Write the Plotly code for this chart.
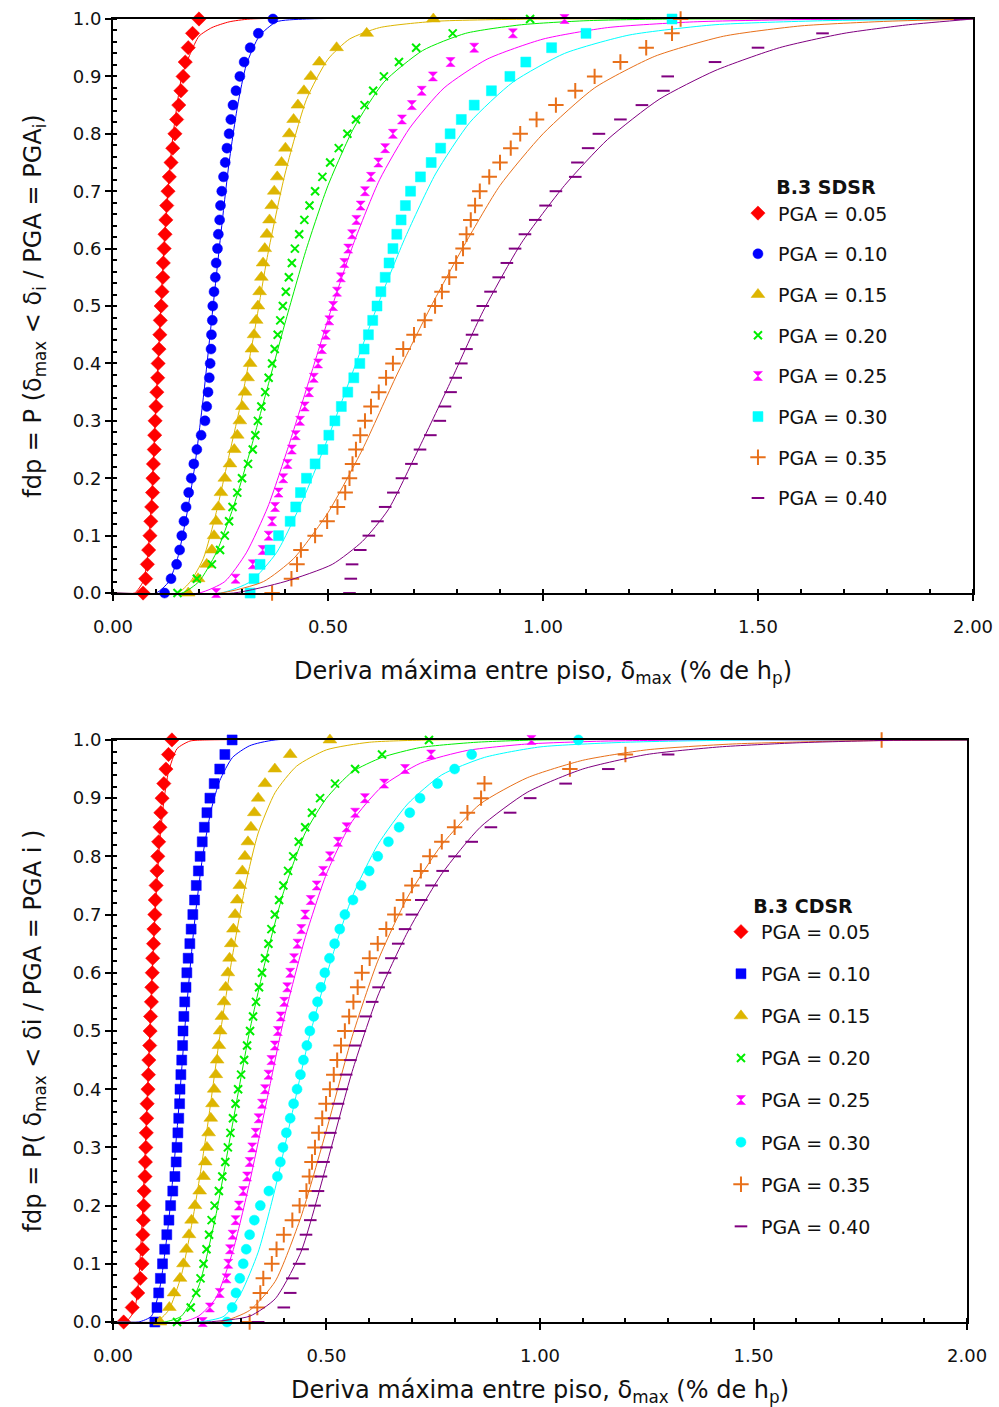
import plotly.graph_objects as go

# ---------------- data ----------------
P_LEVELS = [0.000, 0.025, 0.050, 0.075, 0.100, 0.125, 0.150, 0.175, 0.200, 0.225,
            0.250, 0.275, 0.300, 0.325, 0.350, 0.375, 0.400, 0.425, 0.450, 0.475,
            0.500, 0.525, 0.550, 0.575, 0.600, 0.625, 0.650, 0.675, 0.700, 0.725,
            0.750, 0.775, 0.800, 0.825, 0.850, 0.875, 0.900, 0.925, 0.950, 0.975, 1.000]

PGA_LABELS = ["PGA = 0.05", "PGA = 0.10", "PGA = 0.15", "PGA = 0.20",
              "PGA = 0.25", "PGA = 0.30", "PGA = 0.35", "PGA = 0.40"]
COLORS = ["#FF0000", "#0000FF", "#DDB500", "#00EE00",
          "#FF00FF", "#00FFFF", "#E8701A", "#800080"]
SYMBOLS_SDSR = ["diamond", "circle", "triangle-up", "x-thin",
                "hourglass", "square", "cross-thin", "line-ew"]
SYMBOLS_CDSR = ["diamond", "square", "triangle-up", "x-thin",
                "hourglass", "circle", "cross-thin", "line-ew"]

# ---- B.3 SDSR: empirical drift values (%) at each probability level ----
sdsr_05 = [0.070, 0.076, 0.080, 0.083, 0.086, 0.088, 0.090, 0.092, 0.093, 0.094,
           0.096, 0.097, 0.098, 0.100, 0.102, 0.104, 0.105, 0.107, 0.109, 0.110,
           0.112, 0.114, 0.116, 0.117, 0.119, 0.121, 0.123, 0.125, 0.128, 0.131,
           0.135, 0.139, 0.144, 0.148, 0.153, 0.158, 0.163, 0.168, 0.175, 0.185, 0.200]
sdsr_10 = [0.120, 0.135, 0.148, 0.155, 0.160, 0.165, 0.170, 0.176, 0.182, 0.188,
           0.195, 0.205, 0.214, 0.218, 0.221, 0.224, 0.226, 0.228, 0.229, 0.231,
           0.232, 0.235, 0.238, 0.240, 0.243, 0.245, 0.248, 0.250, 0.253, 0.257,
           0.261, 0.265, 0.270, 0.274, 0.279, 0.286, 0.295, 0.305, 0.319, 0.338, 0.372]
sdsr_15 = [0.175, 0.198, 0.218, 0.230, 0.235, 0.240, 0.245, 0.251, 0.260, 0.272,
           0.282, 0.289, 0.295, 0.301, 0.307, 0.313, 0.319, 0.323, 0.328, 0.333,
           0.337, 0.341, 0.345, 0.349, 0.353, 0.358, 0.364, 0.369, 0.375, 0.382,
           0.392, 0.401, 0.410, 0.420, 0.430, 0.444, 0.460, 0.480, 0.520, 0.590, 0.745]
sdsr_20 = [0.150, 0.195, 0.230, 0.249, 0.260, 0.270, 0.278, 0.289, 0.300, 0.314,
           0.325, 0.331, 0.337, 0.345, 0.354, 0.362, 0.370, 0.376, 0.383, 0.389,
           0.395, 0.402, 0.409, 0.416, 0.423, 0.433, 0.445, 0.457, 0.470, 0.487,
           0.505, 0.525, 0.545, 0.565, 0.585, 0.605, 0.630, 0.665, 0.705, 0.790, 0.970]
sdsr_25 = [0.240, 0.285, 0.325, 0.348, 0.362, 0.370, 0.377, 0.385, 0.396, 0.406,
           0.416, 0.425, 0.435, 0.446, 0.456, 0.467, 0.477, 0.486, 0.495, 0.503,
           0.512, 0.521, 0.530, 0.538, 0.547, 0.556, 0.566, 0.576, 0.586, 0.600,
           0.617, 0.633, 0.651, 0.672, 0.695, 0.718, 0.744, 0.785, 0.840, 0.930, 1.050]
sdsr_30 = [0.319, 0.328, 0.342, 0.365, 0.385, 0.412, 0.425, 0.436, 0.450, 0.470,
           0.488, 0.502, 0.516, 0.531, 0.546, 0.560, 0.574, 0.584, 0.594, 0.604,
           0.614, 0.623, 0.633, 0.642, 0.651, 0.660, 0.670, 0.680, 0.692, 0.715,
           0.740, 0.762, 0.784, 0.810, 0.840, 0.880, 0.923, 0.960, 1.020, 1.100, 1.300]
sdsr_35 = [0.370, 0.415, 0.428, 0.437, 0.470, 0.498, 0.522, 0.540, 0.550, 0.557,
           0.565, 0.575, 0.586, 0.600, 0.618, 0.635, 0.651, 0.675, 0.700, 0.725,
           0.749, 0.765, 0.782, 0.798, 0.814, 0.822, 0.832, 0.842, 0.853, 0.875,
           0.900, 0.925, 0.947, 0.985, 1.030, 1.075, 1.120, 1.180, 1.240, 1.300, 1.320]
sdsr_40 = [0.550, 0.553, 0.556, 0.575, 0.595, 0.615, 0.633, 0.652, 0.672, 0.694,
           0.714, 0.738, 0.760, 0.772, 0.785, 0.797, 0.810, 0.822, 0.835, 0.847,
           0.860, 0.878, 0.897, 0.916, 0.935, 0.958, 0.982, 1.006, 1.030, 1.075,
           1.080, 1.105, 1.130, 1.180, 1.230, 1.280, 1.290, 1.400, 1.500, 1.650, 1.970]

# ---- B.3 SDSR: fitted curves (drift, probability) ----
sdsr_fit05_x = [0.0, 0.05, 0.07, 0.08, 0.09, 0.10, 0.11, 0.12, 0.13, 0.14, 0.16, 0.18, 0.20, 0.23, 0.27, 0.32, 2.0]
sdsr_fit05_p = [0.0, 0.0, 0.02, 0.06, 0.17, 0.33, 0.48, 0.62, 0.72, 0.80, 0.90, 0.94, 0.97, 0.985, 0.995, 1.0, 1.0]
sdsr_fit10_x = [0.0, 0.10, 0.13, 0.15, 0.17, 0.19, 0.21, 0.23, 0.25, 0.27, 0.29, 0.31, 0.34, 0.38, 0.45, 2.0]
sdsr_fit10_p = [0.0, 0.0, 0.02, 0.06, 0.13, 0.22, 0.34, 0.48, 0.62, 0.75, 0.85, 0.92, 0.97, 0.995, 1.0, 1.0]
sdsr_fit15_x = [0.0, 0.15, 0.18, 0.21, 0.24, 0.27, 0.30, 0.33, 0.36, 0.40, 0.45, 0.50, 0.55, 0.62, 0.75, 1.0, 2.0]
sdsr_fit15_p = [0.0, 0.0, 0.02, 0.06, 0.14, 0.24, 0.34, 0.46, 0.59, 0.73, 0.86, 0.93, 0.965, 0.985, 0.996, 1.0, 1.0]
sdsr_fit20_x = [0.0, 0.16, 0.20, 0.24, 0.28, 0.32, 0.36, 0.40, 0.45, 0.50, 0.56, 0.63, 0.72, 0.82, 0.95, 1.1, 1.3, 2.0]
sdsr_fit20_p = [0.0, 0.0, 0.02, 0.07, 0.15, 0.25, 0.36, 0.47, 0.60, 0.71, 0.81, 0.89, 0.945, 0.975, 0.99, 0.997, 1.0, 1.0]
sdsr_fit25_x = [0.0, 0.20, 0.26, 0.31, 0.36, 0.41, 0.46, 0.51, 0.56, 0.62, 0.69, 0.77, 0.87, 1.0, 1.15, 1.35, 1.6, 2.0]
sdsr_fit25_p = [0.0, 0.0, 0.02, 0.07, 0.15, 0.26, 0.38, 0.50, 0.61, 0.72, 0.81, 0.88, 0.93, 0.965, 0.985, 0.995, 0.999, 1.0]
sdsr_fit30_x = [0.0, 0.25, 0.32, 0.38, 0.44, 0.50, 0.56, 0.62, 0.68, 0.75, 0.83, 0.93, 1.05, 1.2, 1.4, 1.65, 2.0]
sdsr_fit30_p = [0.0, 0.0, 0.02, 0.07, 0.16, 0.27, 0.39, 0.51, 0.62, 0.73, 0.82, 0.89, 0.94, 0.972, 0.99, 0.997, 1.0]
sdsr_fit35_x = [0.0, 0.25, 0.35, 0.42, 0.50, 0.58, 0.66, 0.74, 0.82, 0.90, 1.0, 1.12, 1.26, 1.42, 1.6, 1.8, 2.0]
sdsr_fit35_p = [0.0, 0.0, 0.02, 0.06, 0.14, 0.25, 0.38, 0.50, 0.61, 0.71, 0.80, 0.88, 0.935, 0.97, 0.988, 0.996, 1.0]
sdsr_fit40_x = [0.0, 0.28, 0.40, 0.51, 0.58, 0.64, 0.71, 0.78, 0.86, 0.95, 1.05, 1.15, 1.27, 1.4, 1.55, 1.7, 1.85, 2.0]
sdsr_fit40_p = [0.0, 0.0, 0.02, 0.05, 0.09, 0.145, 0.25, 0.36, 0.49, 0.61, 0.71, 0.79, 0.86, 0.91, 0.95, 0.975, 0.99, 1.0]

# ---- B.3 CDSR: empirical drift values (%) at each probability level ----
cdsr_05 = [0.025, 0.045, 0.058, 0.064, 0.068, 0.069, 0.070, 0.071, 0.072, 0.073,
           0.075, 0.076, 0.077, 0.078, 0.079, 0.080, 0.082, 0.083, 0.084, 0.086,
           0.087, 0.088, 0.090, 0.091, 0.092, 0.093, 0.095, 0.096, 0.098, 0.099,
           0.101, 0.103, 0.105, 0.107, 0.110, 0.112, 0.115, 0.119, 0.124, 0.130, 0.138]
cdsr_10 = [0.098, 0.103, 0.107, 0.111, 0.116, 0.121, 0.126, 0.131, 0.135, 0.140,
           0.145, 0.148, 0.150, 0.152, 0.154, 0.156, 0.157, 0.159, 0.161, 0.163,
           0.164, 0.166, 0.168, 0.171, 0.173, 0.176, 0.180, 0.183, 0.187, 0.191,
           0.195, 0.200, 0.204, 0.209, 0.214, 0.220, 0.227, 0.237, 0.250, 0.262, 0.279]
cdsr_15 = [0.110, 0.132, 0.143, 0.157, 0.165, 0.172, 0.178, 0.184, 0.192, 0.203,
           0.212, 0.216, 0.220, 0.224, 0.229, 0.233, 0.237, 0.241, 0.244, 0.248,
           0.251, 0.255, 0.260, 0.264, 0.269, 0.273, 0.277, 0.282, 0.286, 0.291,
           0.297, 0.303, 0.309, 0.316, 0.323, 0.331, 0.340, 0.356, 0.379, 0.415, 0.508]
cdsr_20 = [0.150, 0.182, 0.195, 0.205, 0.212, 0.219, 0.225, 0.231, 0.238, 0.248,
           0.256, 0.263, 0.269, 0.275, 0.281, 0.287, 0.293, 0.300, 0.307, 0.314,
           0.321, 0.328, 0.335, 0.342, 0.349, 0.356, 0.364, 0.371, 0.379, 0.389,
           0.399, 0.410, 0.422, 0.435, 0.450, 0.466, 0.485, 0.520, 0.567, 0.630, 0.740]
cdsr_25 = [0.210, 0.227, 0.250, 0.266, 0.270, 0.274, 0.280, 0.287, 0.295, 0.305,
           0.314, 0.320, 0.326, 0.334, 0.341, 0.349, 0.356, 0.364, 0.371, 0.379,
           0.386, 0.393, 0.401, 0.408, 0.415, 0.424, 0.432, 0.441, 0.450, 0.463,
           0.477, 0.492, 0.508, 0.527, 0.547, 0.567, 0.590, 0.635, 0.684, 0.745, 0.980]
cdsr_30 = [0.267, 0.279, 0.288, 0.297, 0.305, 0.312, 0.320, 0.331, 0.345, 0.365,
           0.385, 0.392, 0.398, 0.406, 0.415, 0.423, 0.431, 0.439, 0.446, 0.454,
           0.461, 0.470, 0.479, 0.487, 0.496, 0.507, 0.519, 0.531, 0.543, 0.562,
           0.581, 0.600, 0.620, 0.645, 0.670, 0.695, 0.719, 0.760, 0.800, 0.840, 1.090]
cdsr_35 = [0.320, 0.338, 0.345, 0.352, 0.372, 0.383, 0.400, 0.420, 0.437, 0.453,
           0.460, 0.466, 0.473, 0.482, 0.490, 0.499, 0.508, 0.517, 0.525, 0.534,
           0.543, 0.553, 0.563, 0.573, 0.583, 0.601, 0.620, 0.640, 0.660, 0.680,
           0.700, 0.721, 0.742, 0.770, 0.800, 0.830, 0.862, 0.870, 1.070, 1.200, 1.800]
cdsr_40 = [0.340, 0.400, 0.415, 0.420, 0.436, 0.444, 0.452, 0.462, 0.472, 0.480,
           0.487, 0.493, 0.500, 0.509, 0.518, 0.527, 0.536, 0.546, 0.556, 0.567,
           0.578, 0.592, 0.607, 0.622, 0.637, 0.652, 0.668, 0.684, 0.700, 0.722,
           0.746, 0.772, 0.800, 0.840, 0.885, 0.930, 0.977, 1.060, 1.160, 1.300, 1.800]

# ---- B.3 CDSR: fitted curves (drift, probability) ----
cdsr_fit05_x = [0.0, 0.03, 0.05, 0.06, 0.07, 0.08, 0.09, 0.10, 0.11, 0.12, 0.13, 0.15, 0.18, 0.22, 2.0]
cdsr_fit05_p = [0.0, 0.0, 0.02, 0.07, 0.20, 0.38, 0.57, 0.72, 0.83, 0.90, 0.945, 0.985, 0.998, 1.0, 1.0]
cdsr_fit10_x = [0.0, 0.06, 0.09, 0.11, 0.13, 0.15, 0.17, 0.19, 0.21, 0.23, 0.25, 0.28, 0.32, 0.38, 2.0]
cdsr_fit10_p = [0.0, 0.0, 0.01, 0.06, 0.17, 0.33, 0.52, 0.68, 0.80, 0.88, 0.93, 0.97, 0.99, 1.0, 1.0]
cdsr_fit15_x = [0.0, 0.10, 0.13, 0.16, 0.19, 0.22, 0.25, 0.28, 0.31, 0.34, 0.38, 0.43, 0.50, 0.60, 0.75, 2.0]
cdsr_fit15_p = [0.0, 0.0, 0.02, 0.08, 0.19, 0.33, 0.49, 0.63, 0.75, 0.84, 0.91, 0.955, 0.983, 0.996, 1.0, 1.0]
cdsr_fit20_x = [0.0, 0.12, 0.16, 0.20, 0.24, 0.28, 0.32, 0.36, 0.40, 0.45, 0.50, 0.56, 0.63, 0.72, 0.85, 1.0, 2.0]
cdsr_fit20_p = [0.0, 0.0, 0.01, 0.06, 0.18, 0.34, 0.50, 0.63, 0.74, 0.84, 0.90, 0.945, 0.97, 0.987, 0.996, 1.0, 1.0]
cdsr_fit25_x = [0.0, 0.16, 0.20, 0.24, 0.28, 0.32, 0.36, 0.40, 0.45, 0.50, 0.56, 0.63, 0.72, 0.83, 0.97, 1.15, 1.4, 2.0]
cdsr_fit25_p = [0.0, 0.0, 0.01, 0.04, 0.12, 0.24, 0.38, 0.52, 0.66, 0.77, 0.86, 0.92, 0.96, 0.982, 0.993, 0.998, 1.0, 1.0]
cdsr_fit30_x = [0.0, 0.20, 0.26, 0.30, 0.34, 0.38, 0.42, 0.46, 0.51, 0.56, 0.62, 0.69, 0.77, 0.87, 1.0, 1.2, 1.5, 2.0]
cdsr_fit30_p = [0.0, 0.0, 0.01, 0.05, 0.12, 0.23, 0.36, 0.49, 0.62, 0.73, 0.82, 0.89, 0.94, 0.97, 0.988, 0.996, 1.0, 1.0]
cdsr_fit35_x = [0.0, 0.25, 0.32, 0.38, 0.44, 0.50, 0.56, 0.62, 0.69, 0.77, 0.86, 0.97, 1.1, 1.25, 1.45, 1.7, 2.0]
cdsr_fit35_p = [0.0, 0.0, 0.02, 0.07, 0.18, 0.33, 0.49, 0.62, 0.73, 0.82, 0.89, 0.935, 0.965, 0.983, 0.993, 0.998, 1.0]
cdsr_fit40_x = [0.0, 0.22, 0.32, 0.38, 0.44, 0.50, 0.56, 0.62, 0.69, 0.77, 0.86, 0.97, 1.1, 1.25, 1.42, 1.6, 1.8, 2.0]
cdsr_fit40_p = [0.0, 0.0, 0.01, 0.04, 0.12, 0.27, 0.43, 0.56, 0.67, 0.77, 0.85, 0.91, 0.95, 0.975, 0.988, 0.995, 0.999, 1.0]

X_TICKS = [0.0, 0.5, 1.0, 1.5, 2.0]
X_TICK_TEXT = ["0.00", "0.50", "1.00", "1.50", "2.00"]
Y_TICKS = [0.0, 0.1, 0.2, 0.3, 0.4, 0.5, 0.6, 0.7, 0.8, 0.9, 1.0]
Y_TICK_TEXT = ["0.0", "0.1", "0.2", "0.3", "0.4", "0.5", "0.6", "0.7", "0.8", "0.9", "1.0"]

SDSR_POINTS = [sdsr_05, sdsr_10, sdsr_15, sdsr_20, sdsr_25, sdsr_30, sdsr_35, sdsr_40]
SDSR_FITS = [(sdsr_fit05_x, sdsr_fit05_p), (sdsr_fit10_x, sdsr_fit10_p), (sdsr_fit15_x, sdsr_fit15_p),
             (sdsr_fit20_x, sdsr_fit20_p), (sdsr_fit25_x, sdsr_fit25_p), (sdsr_fit30_x, sdsr_fit30_p),
             (sdsr_fit35_x, sdsr_fit35_p), (sdsr_fit40_x, sdsr_fit40_p)]
CDSR_POINTS = [cdsr_05, cdsr_10, cdsr_15, cdsr_20, cdsr_25, cdsr_30, cdsr_35, cdsr_40]
CDSR_FITS = [(cdsr_fit05_x, cdsr_fit05_p), (cdsr_fit10_x, cdsr_fit10_p), (cdsr_fit15_x, cdsr_fit15_p),
             (cdsr_fit20_x, cdsr_fit20_p), (cdsr_fit25_x, cdsr_fit25_p), (cdsr_fit30_x, cdsr_fit30_p),
             (cdsr_fit35_x, cdsr_fit35_p), (cdsr_fit40_x, cdsr_fit40_p)]

# ---------------- styling ----------------
FONT = "DejaVu Sans"
MARKER_SIZE = {"diamond": 11, "circle": 10, "triangle-up": 12, "x-thin": 8,
               "hourglass": 9, "square": 10, "cross-thin": 11, "line-ew": 9}
THIN = {"x-thin", "cross-thin", "line-ew"}

fig = go.Figure()


def add_panel(points, fits, symbols, xref, yref, legend_name, group_prefix):
    for i in range(8):
        color = COLORS[i]
        sym = symbols[i]
        fx, fp = fits[i]
        fig.add_trace(go.Scatter(
            x=fx, y=fp, mode="lines", xaxis=xref, yaxis=yref,
            line=dict(color=color, width=1, shape="spline", smoothing=0.6),
            showlegend=False, legendgroup=f"{group_prefix}{i}", hoverinfo="skip"))
        fig.add_trace(go.Scatter(
            x=points[i], y=P_LEVELS, mode="markers", xaxis=xref, yaxis=yref,
            name=PGA_LABELS[i], legend=legend_name, legendgroup=f"{group_prefix}{i}",
            cliponaxis=False,
            marker=dict(symbol=sym, size=MARKER_SIZE[sym], color=color,
                        line=dict(color=color, width=2 if sym in THIN else 0.5))))


add_panel(SDSR_POINTS, SDSR_FITS, SYMBOLS_SDSR, "x", "y", "legend", "s")
add_panel(CDSR_POINTS, CDSR_FITS, SYMBOLS_CDSR, "x2", "y2", "legend2", "c")

axis_common = dict(showline=True, linecolor="black", linewidth=2, mirror=True,
                   showgrid=False, zeroline=False, ticks="outside", tickcolor="black",
                   automargin=False,
                   tickfont=dict(family=FONT, size=18, color="#111"))
x_common = dict(axis_common, range=[0, 2], tickvals=X_TICKS, ticktext=X_TICK_TEXT,
                ticklen=6, tickwidth=1.5, ticklabelstandoff=10,
                minor=dict(dtick=0.1, ticks="inside", ticklen=4, tickcolor="black", tickwidth=1.5))
y_common = dict(axis_common, range=[0, 1], tickvals=Y_TICKS, ticktext=Y_TICK_TEXT,
                ticklen=6, tickwidth=1.5,
                minor=dict(dtick=0.02, ticks="inside", ticklen=4, tickcolor="black", tickwidth=1.5))

x_title = "Deriva máxima entre piso, δ<sub>max</sub> (% de h<sub>p</sub>)"
title_font = dict(family=FONT, size=24, color="#111")
legend_font = dict(family=FONT, size=19, color="#111")
NBSP = "&nbsp;"

fig.update_layout(
    width=999, height=1407,
    margin=dict(l=0, r=0, t=0, b=0, autoexpand=False),
    paper_bgcolor="white", plot_bgcolor="white",
    font=dict(family=FONT, color="#111"),
    xaxis=dict(x_common, domain=[0.1131, 0.974], anchor="y",
               title=dict(text=x_title, font=title_font, standoff=27)),
    yaxis=dict(y_common, domain=[0.5785, 0.9865], anchor="x",
               title=dict(text="fdp = P (δ<sub>max</sub> &lt; δ<sub>i</sub> / PGA = PGA<sub>i</sub>)",
                          font=title_font, standoff=24)),
    xaxis2=dict(x_common, domain=[0.1131, 0.968], anchor="y2",
                title=dict(text=x_title, font=title_font, standoff=19)),
    yaxis2=dict(y_common, domain=[0.0604, 0.4741], anchor="x2",
                title=dict(text="fdp = P( δ<sub>max</sub> &lt; δi / PGA = PGA i )",
                           font=title_font, standoff=24)),
    legend=dict(x=0.7387, y=0.8795, xanchor="left", yanchor="top",
                bgcolor="rgba(0,0,0,0)", traceorder="grouped", tracegroupgap=13,
                font=legend_font,
                title=dict(text=NBSP * 6 + "<b>B.3 SDSR</b>", side="top", font=legend_font)),
    legend2=dict(x=0.7217, y=0.3688, xanchor="left", yanchor="top",
                 bgcolor="rgba(0,0,0,0)", traceorder="grouped", tracegroupgap=14.4,
                 font=legend_font,
                 title=dict(text=NBSP * 5 + "<b>B.3 CDSR</b>", side="top", font=legend_font)),
)

fig.write_html("out.html")
